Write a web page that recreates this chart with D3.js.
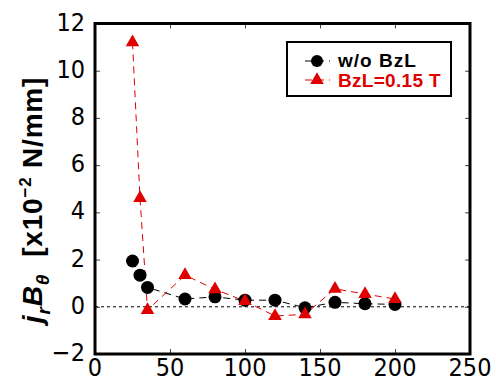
<!doctype html>
<html lang="en">
<head>
    <meta charset="utf-8">
    <title>jrBθ</title>
    <script src="https://cdnjs.cloudflare.com/ajax/libs/d3/7.8.5/d3.min.js"></script>
    <style>
        body { margin: 0; background: #fff; }
        text { font-family: "Liberation Sans", Arial, sans-serif; }
        text.num { font-family: "Liberation Sans Narrow", "DejaVu Sans Condensed", "Liberation Sans", sans-serif; }
    </style>
</head>
<body>
    <div id="chart"></div>
    <script>
        var xTicks = [0, 50, 100, 150, 200, 250];
        var yTicks = [-2, 0, 2, 4, 6, 8, 10, 12];

        var distance = [25, 30, 35, 60, 80, 100, 120, 140, 160, 180, 200];
        var noBzL = [1.94, 1.34, 0.82, 0.33, 0.42, 0.28, 0.28, -0.04, 0.19, 0.13, 0.10];
        var bzL015 = [11.2, 4.6, -0.14, 1.34, 0.74, 0.24, -0.39, -0.32, 0.76, 0.54, 0.33];

        var red = '#e00000';
        var width = 496, height = 383;
        var plotL = 95, plotR = 470, plotT = 23.5, plotB = 354;

        var svg = d3.select('#chart')
            .append('svg')
            .attr('width', width)
            .attr('height', height);

        var x = d3.scaleLinear().domain([0, 250]).range([plotL, plotR]);
        var y = d3.scaleLinear().domain([-2, 12]).range([plotB, plotT]);

        // inward ticks on every side
        var tickLen = 5;
        svg.append('g')
            .attr('transform', 'translate(0,' + plotB + ')')
            .call(d3.axisBottom(x).tickValues(xTicks).tickSize(-tickLen).tickFormat(''))
            .call(function(g){ g.select('.domain').remove(); });
        svg.append('g')
            .attr('transform', 'translate(0,' + plotT + ')')
            .call(d3.axisTop(x).tickValues(xTicks).tickSize(-tickLen).tickFormat(''))
            .call(function(g){ g.select('.domain').remove(); });
        svg.append('g')
            .attr('transform', 'translate(' + plotL + ',0)')
            .call(d3.axisLeft(y).tickValues(yTicks).tickSize(-tickLen).tickFormat(''))
            .call(function(g){ g.select('.domain').remove(); });
        svg.append('g')
            .attr('transform', 'translate(' + plotR + ',0)')
            .call(d3.axisRight(y).tickValues(yTicks).tickSize(-tickLen).tickFormat(''))
            .call(function(g){ g.select('.domain').remove(); });
        svg.selectAll('.tick line').attr('stroke', '#444').attr('stroke-width', 1);

        // tick labels
        svg.selectAll('text.xl')
            .data(xTicks)
            .enter().append('text')
            .attr('class', 'xl num')
            .attr('x', function(d){ return x(d); })
            .attr('y', 376)
            .attr('text-anchor', 'middle')
            .attr('font-size', 25)
            .text(function(d){ return d; });

        svg.selectAll('text.yl')
            .data(yTicks)
            .enter().append('text')
            .attr('class', 'yl num')
            .attr('x', 85)
            .attr('y', function(d){ return y(d) + 7; })
            .attr('text-anchor', 'end')
            .attr('font-size', 25)
            .text(function(d){ return d < 0 ? '\u2212' + Math.abs(d) : d; });

        // zero line
        svg.append('line')
            .attr('x1', x(0)).attr('x2', x(250))
            .attr('y1', y(0)).attr('y2', y(0))
            .attr('stroke', '#000')
            .attr('stroke-width', 1)
            .attr('stroke-dasharray', '3,3');

        var line = d3.line()
            .x(function(d){ return x(d[0]); })
            .y(function(d){ return y(d[1]); });

        var blackPts = d3.zip(distance, noBzL);
        var redPts = d3.zip(distance, bzL015);

        svg.append('path')
            .datum(blackPts)
            .attr('d', line)
            .attr('fill', 'none')
            .attr('stroke', '#000')
            .attr('stroke-width', 1)
            .attr('stroke-dasharray', '7,5');

        svg.append('path')
            .datum(redPts)
            .attr('d', line)
            .attr('fill', 'none')
            .attr('stroke', red)
            .attr('stroke-width', 1)
            .attr('stroke-dasharray', '7,5');

        svg.selectAll('circle.pt')
            .data(blackPts)
            .enter().append('circle')
            .attr('class', 'pt')
            .attr('cx', function(d){ return x(d[0]); })
            .attr('cy', function(d){ return y(d[1]); })
            .attr('r', 6.5)
            .attr('fill', '#000');

        var tri = d3.symbol().type(d3.symbolTriangle).size(80);
        svg.selectAll('path.tri')
            .data(redPts)
            .enter().append('path')
            .attr('class', 'tri')
            .attr('d', tri)
            .attr('transform', function(d){ return 'translate(' + x(d[0]) + ',' + y(d[1]) + ')'; })
            .attr('fill', red);

        // frame
        svg.append('rect')
            .attr('x', plotL).attr('y', plotT)
            .attr('width', plotR - plotL).attr('height', plotB - plotT)
            .attr('fill', 'none')
            .attr('stroke', '#000')
            .attr('stroke-width', 3);

        // legend
        var lg = svg.append('g');
        lg.append('rect')
            .attr('x', 287).attr('y', 42)
            .attr('width', 164).attr('height', 54)
            .attr('fill', '#fff')
            .attr('stroke', '#000')
            .attr('stroke-width', 2);
        lg.append('line').attr('x1', 304).attr('x2', 330).attr('y1', 61).attr('y2', 61)
            .attr('stroke', '#000').attr('stroke-dasharray', '7,5').attr('stroke-dashoffset', -1);
        lg.append('circle').attr('cx', 317).attr('cy', 61).attr('r', 6).attr('fill', '#000');
        lg.append('text').attr('x', 338).attr('y', 67)
            .attr('font-size', 19).attr('letter-spacing', 1).attr('font-weight', 'bold').text('w/o BzL');
        lg.append('line').attr('x1', 304).attr('x2', 330).attr('y1', 80).attr('y2', 80)
            .attr('stroke', red).attr('stroke-dasharray', '7,5').attr('stroke-dashoffset', -1);
        lg.append('path').attr('d', tri)
            .attr('transform', 'translate(317,80)').attr('fill', red);
        lg.append('text').attr('x', 338).attr('y', 87)
            .attr('font-size', 19).attr('letter-spacing', 0.3).attr('font-weight', 'bold').attr('fill', red).text('BzL=0.15 T');

        // y axis label
        var yl = svg.append('text')
            .attr('transform', 'translate(42,200) rotate(-90)')
            .attr('text-anchor', 'middle')
            .attr('font-size', 28)
            .attr('letter-spacing', 0.8)
            .attr('font-weight', 'bold');
        yl.append('tspan').attr('font-style', 'italic').text('j');
        yl.append('tspan').attr('font-size', 19).attr('dy', 8).attr('font-style', 'italic').text('r');
        yl.append('tspan').attr('font-style', 'italic').attr('dy', -8).text('B');
        yl.append('tspan').attr('font-size', 19).attr('dy', 7).attr('font-style', 'italic').text('\u03b8');
        yl.append('tspan').attr('dy', -7).text('\u00a0\u00a0[x10');
        yl.append('tspan').attr('font-size', 17).attr('dy', -11).text('\u22122');
        yl.append('tspan').attr('dy', 11).text('\u00a0N/mm]');
    </script>
</body>
</html>
